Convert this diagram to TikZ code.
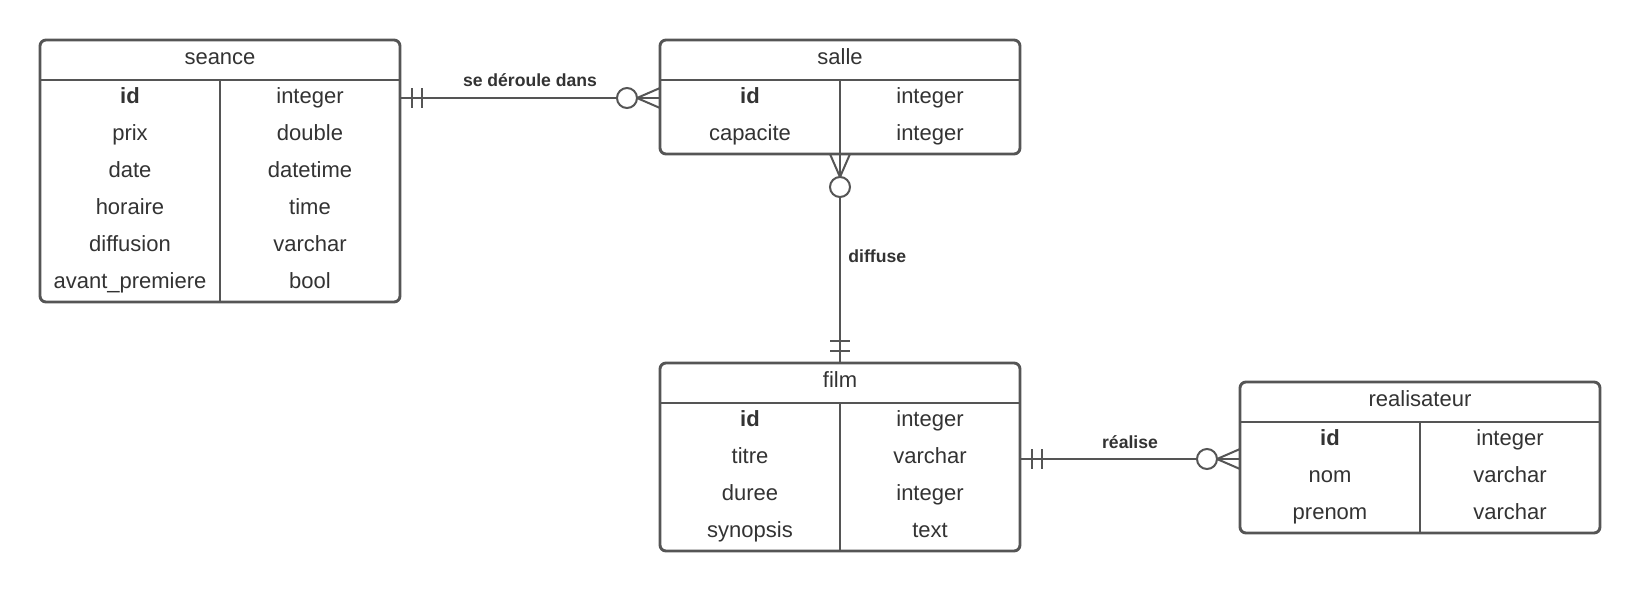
\documentclass[tikz,border=0pt]{standalone}
\usepackage{fontspec}
\setmainfont{Liberation Sans}
\usetikzlibrary{calc}
\definecolor{edgegray}{RGB}{85,85,85}
\definecolor{inkgray}{RGB}{51,51,51}
\tikzset{
  tblbox/.style={draw=edgegray, line width=1.45pt, rounded corners=3pt, inner sep=0pt, outer sep=0pt, minimum width=180pt, fill=white},
  tblline/.style={draw=edgegray, line width=1.45pt},
  celltext/.style={inner sep=0pt, text=inkgray, text height=7.9pt, text depth=2.3pt, font=\fontsize{11}{13}\selectfont},
  rel/.style={draw=edgegray, line width=1pt},
  rellabel/.style={inner sep=0pt, text=inkgray, text height=6.3pt, text depth=0pt, font=\fontsize{8.8}{10}\selectfont\bfseries},
}
% #1 name, #2 x, #3 y (px, top-left), #4 title, #5 rows, #6 list
\newcommand{\ertbl}[6]{%
  \node[tblbox, anchor=north west, minimum height={(40+37*#5)*0.5pt}] (#1) at (#2,#3) {};
  \node[celltext] (#1-title) at ($(#1.north)+(0,19)$) {#4};
  \draw[tblline] ($(#1.north west)+(0,40)$) -- ($(#1.north east)+(0,40)$);
  \draw[tblline] ($(#1.north)+(0,40)$) -- (#1.south);
  \foreach \a/\b [count=\i] in {#6} {
    \node[celltext] (#1-\i-a) at ($(#1.north west)+(90,{40+37*\i-19})$) {\a};
    \node[celltext] (#1-\i-b) at ($(#1.north west)+(270,{40+37*\i-19})$) {\b};
  }
}
\begin{document}
\begin{tikzpicture}[x=0.5pt,y=-0.5pt]
\fill[white] (0,0) rectangle (1640,591);
\useasboundingbox (0,0) rectangle (1640,591);

\ertbl{seance}{40}{40}{seance}{6}{\textbf{id}/integer, prix/double, date/datetime, horaire/time, diffusion/varchar, avant\_premiere/bool}
\ertbl{salle}{660}{40}{salle}{2}{\textbf{id}/integer, capacite/integer}
\ertbl{film}{660}{363}{film}{4}{\textbf{id}/integer, titre/varchar, duree/integer, synopsis/text}
\ertbl{realisateur}{1240}{382}{realisateur}{3}{\textbf{id}/integer, nom/varchar, prenom/varchar}

% seance -> salle
\coordinate (c1a) at ($(seance.north east)+(0,58)$);
\coordinate (c1b) at ($(salle.north west)+(0,58)$);
\draw[rel] (c1a) -- (c1b);
\draw[rel] ($(c1a)+(12,-10)$) -- ($(c1a)+(12,10)$);
\draw[rel] ($(c1a)+(22,-10)$) -- ($(c1a)+(22,10)$);
\draw[rel] ($(c1b)+(0,-10)$) -- ($(c1b)+(-23,0)$) -- ($(c1b)+(0,10)$);
\draw[rel, fill=white] ($(c1b)+(-33,0)$) circle[radius=5pt];
\node[rellabel] (l1) at ($(c1a)!0.5!(c1b)+(0,-17.5)$) {se déroule dans};

% salle -> film
\coordinate (c2a) at (salle.south);
\coordinate (c2b) at (film.north);
\draw[rel] (c2a) -- (c2b);
\draw[rel] ($(c2a)+(-10,0)$) -- ($(c2a)+(0,23)$) -- ($(c2a)+(10,0)$);
\draw[rel, fill=white] ($(c2a)+(0,33)$) circle[radius=5pt];
\draw[rel] ($(c2b)+(-10,-12)$) -- ($(c2b)+(10,-12)$);
\draw[rel] ($(c2b)+(-10,-22)$) -- ($(c2b)+(10,-22)$);
\node[rellabel, anchor=west] (l2) at ($(c2a)!0.5!(c2b)+(8,-2)$) {diffuse};

% film -> realisateur
\coordinate (c3a) at ($(film.north east)+(0,96)$);
\coordinate (c3b) at (realisateur.west |- c3a);
\draw[rel] (c3a) -- (c3b);
\draw[rel] ($(c3a)+(12,-10)$) -- ($(c3a)+(12,10)$);
\draw[rel] ($(c3a)+(22,-10)$) -- ($(c3a)+(22,10)$);
\draw[rel] ($(c3b)+(0,-10)$) -- ($(c3b)+(-23,0)$) -- ($(c3b)+(0,10)$);
\draw[rel, fill=white] ($(c3b)+(-33,0)$) circle[radius=5pt];
\node[rellabel] (l3) at ($(c3a)!0.5!(c3b)+(0,-17)$) {réalise};
\end{tikzpicture}
\end{document}
